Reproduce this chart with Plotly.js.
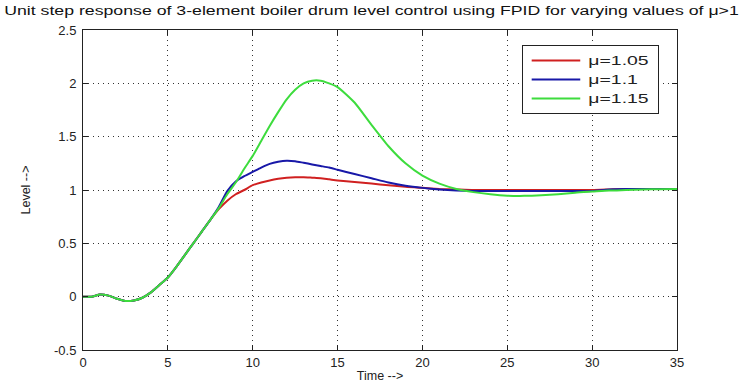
<!DOCTYPE html>
<html>
<head>
<meta charset="utf-8">
<script src="https://cdn.plot.ly/plotly-3.0.1.min.js"></script>
<style>html,body{margin:0;padding:0;background:#fff;}#chart{width:743px;height:383px;}</style>
</head>
<body>
<div id="chart"></div>
<script>
const time = [0,0.5,1,1.5,2,2.5,3,3.5,4,4.5,5,5.5,6,6.5,7,7.5,8,8.5,9,9.5,10,10.5,11,11.5,12,12.5,13,13.5,14,14.5,15,16,17,18,19,20,21,22,23,24,25,26,27,28,29,30,31,32,33,34,35];
const levelMu105 = [0,0,0.02,0.01,-0.02,-0.04,-0.035,-0.01,0.04,0.11,0.18,0.28,0.39,0.5,0.61,0.72,0.82,0.9,0.96,1.0,1.045,1.07,1.09,1.105,1.115,1.12,1.12,1.115,1.11,1.1,1.09,1.075,1.06,1.045,1.03,1.02,1.01,1.005,1.0,1.0,1.0,1.0,1.0,1.0,1.0,1.0,1.005,1.01,1.01,1.01,1.01];
const levelMu11 = [0,0,0.02,0.01,-0.02,-0.04,-0.035,-0.01,0.04,0.11,0.18,0.28,0.39,0.5,0.61,0.72,0.84,0.99,1.08,1.13,1.17,1.21,1.245,1.265,1.275,1.27,1.255,1.24,1.225,1.21,1.19,1.15,1.11,1.07,1.04,1.02,1.005,0.995,0.99,0.99,0.99,0.99,0.99,0.99,0.99,0.99,1.005,1.01,1.01,1.01,1.01];
const levelMu115 = [0,0,0.02,0.01,-0.02,-0.04,-0.035,-0.01,0.04,0.11,0.18,0.28,0.39,0.5,0.61,0.72,0.83,0.96,1.07,1.2,1.32,1.46,1.6,1.73,1.85,1.94,2.0,2.025,2.025,2.0,1.965,1.82,1.61,1.41,1.25,1.135,1.06,1.01,0.98,0.96,0.947,0.945,0.95,0.96,0.975,0.985,0.995,1.0,1.005,1.008,1.01];
const seriesNames = ['\u03bc=1.05','\u03bc=1.1','\u03bc=1.15'];
const seriesColors = ['#d02020','#1818a8','#3ddc3d'];
const xTicks = [0,5,10,15,20,25,30,35];
const yTicks = [-0.5,0,0.5,1,1.5,2,2.5];
const yTickText = ['-0.5','0','0.5','1','1.5','2','2.5'];

const ys = [levelMu105, levelMu11, levelMu115];
const traces = ys.map((y,i)=>({
  x: time, y: y, type:'scatter', mode:'lines', name: seriesNames[i],
  line:{color: seriesColors[i], width:2, shape:'spline', smoothing:0.6}
}));

const axisCommon = {
  showline:true, linecolor:'#222', linewidth:1, mirror:'allticks',
  ticks:'inside', ticklen:5, tickcolor:'#222',
  showgrid:true, gridcolor:'#333', griddash:'1px,4px', gridwidth:1,
  zeroline:false, tickfont:{family:'Liberation Sans, Arial, sans-serif', size:13, color:'#222'}
};

const layout = {
  width:743, height:383,
  margin:{l:83, r:66, t:30, b:33},
  paper_bgcolor:'#fff', plot_bgcolor:'#fff',
  font:{family:'Liberation Sans, Arial, sans-serif', color:'#222'},
  title:{text:'Unit step response of 3-element boiler drum level control using FPID for varying values of \u03bc>1',
         font:{size:13.5, color:'#111'}, x:0.5, xref:'container', xanchor:'center', y:0.985, yref:'container', yanchor:'top'},
  xaxis:Object.assign({}, axisCommon, {range:[0,35], tickvals:xTicks, ticktext:xTicks.map(String),
        title:{text:'Time -->', font:{size:12.5}, standoff:2}}),
  yaxis:Object.assign({}, axisCommon, {range:[-0.5,2.5], tickvals:yTicks, ticktext:yTickText, ticklabelstandoff:3,
        title:{text:'Level -->', font:{size:12.5}, standoff:20}}),
  showlegend:true,
  legend:{x:0.739, y:0.953, xanchor:'left', yanchor:'top', bordercolor:'#222', borderwidth:1,
          bgcolor:'#fff', font:{size:12, color:'#222'}, tracegroupgap:0}
};

Plotly.newPlot('chart', traces, layout, {staticPlot:true, displayModeBar:false}).then(gd=>{
  // The reference's title and legend are rendered horizontally stretched; widen them.
  const g = gd.querySelector('.g-gtitle');
  if (g) {
    const bb = g.getBBox();
    const cx = bb.x + bb.width/2;
    const s = 735 / bb.width;
    g.setAttribute('transform', `translate(${cx},0) scale(${s},1) translate(${-cx},0)`);
  }
  const leg = gd.querySelector('g.legend');
  if (leg) {
    const bg = leg.querySelector('rect.bg');
    const w = bg ? parseFloat(bg.getAttribute('width')) : leg.getBBox().width;
    const s = 136 / w;
    const t = leg.getAttribute('transform') || '';
    leg.setAttribute('transform', `${t} scale(${s},1)`);
    leg.querySelectorAll('rect, path').forEach(el=>el.setAttribute('vector-effect','non-scaling-stroke'));
  }
});
</script>
</body>
</html>
